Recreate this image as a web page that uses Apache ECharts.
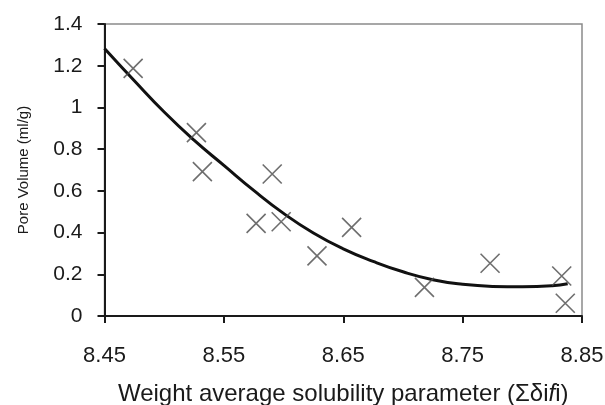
<!DOCTYPE html>
<html>
<head>
<meta charset="utf-8">
<script src="https://cdn.jsdelivr.net/npm/echarts@6/dist/echarts.min.js"></script>
<style>html,body{margin:0;padding:0;background:#fff}#c{width:605px;height:405px}</style>
</head>
<body>
<div id="c"></div>
<script>
// Measured points (x = weight average solubility parameter, y = pore volume ml/g)
const pointX = [8.474, 8.527, 8.532, 8.5905, 8.577, 8.598, 8.628, 8.657, 8.718, 8.773, 8.833, 8.836];
const pointY = [1.187, 0.879, 0.692, 0.681, 0.444, 0.452, 0.288, 0.425, 0.137, 0.253, 0.192, 0.061];
// Trend line
const curveX = [8.45, 8.475, 8.5, 8.525, 8.55, 8.575, 8.6, 8.625, 8.65, 8.675, 8.7, 8.725, 8.75, 8.775, 8.8, 8.825, 8.838];
const curveY = [1.283, 1.128, 0.978, 0.843, 0.722, 0.602, 0.492, 0.398, 0.322, 0.262, 0.212, 0.174, 0.152, 0.142, 0.140, 0.145, 0.155];
const xTicks = [8.45, 8.55, 8.65, 8.75, 8.85];
const yTicks = [0, 0.2, 0.4, 0.6, 0.8, 1, 1.2, 1.4];

const chart = echarts.init(document.getElementById('c'), null, {renderer: 'canvas'});
const font = 'Liberation Sans, Arial, sans-serif';
chart.setOption({
  animation: false,
  backgroundColor: '#fff',
  grid: {left: 104.5, right: 23, top: 24, bottom: 89, outerBoundsMode: 'none', containLabel: false,
    show: true, borderColor: '#8a8a8a', borderWidth: 1.5, backgroundColor: '#fff'},
  xAxis: {
    type: 'value', min: xTicks[0], max: xTicks[xTicks.length - 1], interval: 0.1,
    name: 'Weight average solubility parameter (Σδi{it|f}i)',
    nameLocation: 'middle', nameGap: 66,
    nameTextStyle: {fontFamily: font, fontSize: 24, color: '#1a1a1a', rich: {it: {fontFamily: font, fontSize: 24, color: '#1a1a1a', fontStyle: 'italic'}}},
    axisLine: {show: true, lineStyle: {color: '#1a1a1a', width: 2}},
    axisTick: {show: true, length: 7, lineStyle: {color: '#1a1a1a', width: 2}},
    axisLabel: {margin: 29, fontFamily: font, fontSize: 22, color: '#1a1a1a', formatter: v => v.toFixed(2)},
    splitLine: {show: false}
  },
  yAxis: {
    type: 'value', min: yTicks[0], max: yTicks[yTicks.length - 1], interval: 0.2,
    name: 'Pore Volume (ml/g)', nameLocation: 'middle', nameGap: 73,
    nameTextStyle: {fontFamily: font, fontSize: 15, color: '#1a1a1a'},
    axisLine: {show: true, lineStyle: {color: '#1a1a1a', width: 2}},
    axisTick: {show: true, length: 7, lineStyle: {color: '#1a1a1a', width: 2}},
    axisLabel: {margin: 22, fontFamily: font, fontSize: 21, color: '#1a1a1a', formatter: v => String(+v.toFixed(1))},
    splitLine: {show: false}
  },
  series: [
    {
      type: 'line', data: curveX.map((x, i) => [x, curveY[i]]),
      smooth: 0.5, showSymbol: false, symbol: 'none',
      lineStyle: {color: '#111', width: 3}, z: 3
    },
    {
      type: 'scatter', data: pointX.map((x, i) => [x, pointY[i]]),
      symbol: 'path://M0,0L10,10M10,0L0,10', symbolSize: 19,
      itemStyle: {color: 'none', borderColor: '#4a4a4a', borderWidth: 1.6}, z: 4
    }
  ]
});
</script>
</body>
</html>
